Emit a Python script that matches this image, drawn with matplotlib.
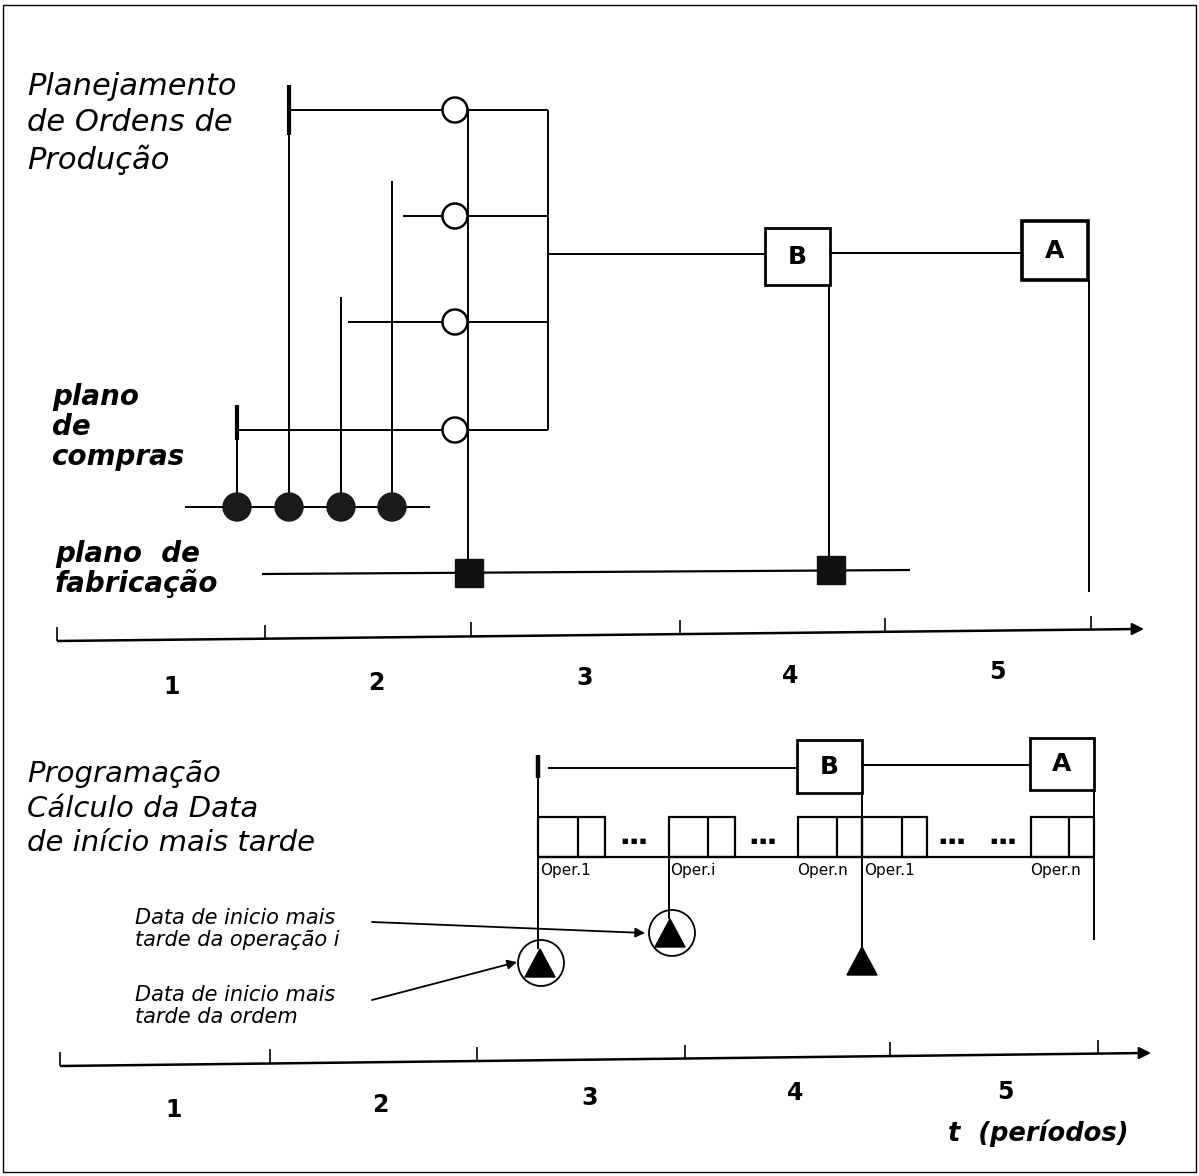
import matplotlib.pyplot as plt
from matplotlib.patches import Circle, Rectangle, Polygon

plt.rcParams['font.family'] = ['DejaVu Sans']

# ---- time scales (the scan is a little skewed, so the axes tilt) ----
periods = ['1', '2', '3', '4', '5']
top_axis = [57, 641, 1140, 629]
top_ticks = [57, 265, 471, 680, 885, 1091]
top_label_x = [172, 376, 585, 790, 997]
top_label_y = [687, 683, 678, 676, 672]
bot_axis = [60, 1066, 1147, 1053]
bot_ticks = [60, 270, 477, 685, 890, 1098]
bot_label_x = [174, 380, 590, 795, 1005]
bot_label_y = [1110, 1105, 1098, 1093, 1092]

# ---- upper diagram: planning of production orders ----
buy_x = [237, 289, 341, 392]
buy_y = 507
buy_line = [185, 430]
peg_top = [405, 85, 297, 181]
peg_thick_end = [440, 135, 297, 181]
order_x = 455
order_y = [110, 216, 322, 430]
feed_start = [289, 403, 348, 236]
collect_x = 468
bracket_x = 548
bracket_out_y = 254
make_line = [262, 910]
make_y = [574, 570]
make_x = [469, 831]
box_B1 = [765, 228, 65, 57]
box_A1 = [1022, 221, 66, 59]
A1_drop = 592

# ---- lower diagram: latest start dates ----
box_B2 = [797, 740, 65, 53]
box_A2 = [1030, 738, 64, 52]
order_bar_x = 538
op_top, op_bot = 817, 857
op_groups = [[538, 578, 605], [669, 708, 735], [798, 837, 862], [862, 902, 927], [1031, 1069, 1094]]
op_labels = ['Oper.1', 'Oper.i', 'Oper.n', 'Oper.1', 'Oper.n']
op_label_x = [540, 670, 797, 864, 1030]
dots_x = [634, 763, 952, 1003]
ring_pts = [(541, 963), (672, 933)]
tri_pts = [(540, 965), (670, 935), (862, 963)]
notes = ['Data de inicio mais\ntarde da operação i', 'Data de inicio mais\ntarde da ordem']
notes_y = [929, 1006]
arrow_from = [(372, 922), (372, 1000)]
arrow_to = [(645, 933), (517, 962)]

fig = plt.figure(figsize=(11.99, 11.76), dpi=100)
ax = fig.add_axes([0, 0, 1, 1])
ax.set_xlim(0, 1199)
ax.set_ylim(1176, 0)
ax.axis('off')

LW = 1.4


def seg(xs, ys, lw=LW):
    ax.plot(xs, ys, color='black', lw=lw, solid_capstyle='butt')


def time_axis(axis, ticks, lab_x, lab_y):
    x0, y0, x1, y1 = axis
    seg([x0, x1], [y0, y1], lw=1.8)
    ax.annotate('', xy=(x1 + 4, y1), xytext=(x1 - 10, y1),
                arrowprops=dict(arrowstyle='-|>', color='black', lw=1.5,
                                mutation_scale=18, shrinkA=0, shrinkB=0))
    for t in ticks:
        y = y0 + (y1 - y0) * (t - x0) / (x1 - x0)
        seg([t, t], [y, y - 14], lw=1.2)
    for p, x, y in zip(periods, lab_x, lab_y):
        ax.text(x, y, p, fontsize=17, fontweight='bold', ha='center', va='center')


# frame of the scanned page
ax.add_patch(Rectangle((3, 5), 1193, 1167, fill=False, lw=1.0, ec='black'))

# ---------------- upper diagram ----------------
ax.text(27, 72, 'Planejamento\nde Ordens de\nProdução', fontsize=22, style='italic',
        va='top', linespacing=1.32)
ax.text(52, 383, 'plano\nde\ncompras', fontsize=20, style='italic', fontweight='bold',
        va='top', linespacing=1.08)
ax.text(55, 540, 'plano  de\nfabricação', fontsize=20, style='italic', fontweight='bold',
        va='top', linespacing=1.05)

seg(buy_line, [buy_y, buy_y])
for x, top, thick in zip(buy_x, peg_top, peg_thick_end):
    seg([x, x], [top, buy_y])
    if thick > top:
        seg([x, x], [top, thick], lw=3)
    ax.add_patch(Circle((x, buy_y), 14, color='#1a1a1a', zorder=3))

for y, x0 in zip(order_y, feed_start):
    seg([x0, order_x - 12], [y, y])
    seg([order_x + 12, bracket_x], [y, y])
    ax.add_patch(Circle((order_x, y), 12.5, fill=False, lw=1.8, ec='black', zorder=3))
seg([collect_x, collect_x], [order_y[0], make_y[0]])
seg([bracket_x, bracket_x], [order_y[0], order_y[-1]])

bx, by, bw, bh = box_B1
ax_, ay, aw, ah = box_A1
seg([bracket_x, bx], [bracket_out_y, bracket_out_y])
ax.add_patch(Rectangle((bx, by), bw, bh, fill=False, lw=2, ec='black'))
ax.text(bx + bw / 2, by + bh / 2, 'B', fontsize=18, fontweight='bold', ha='center', va='center')
seg([bx + bw, ax_], [by + 25, by + 25])
ax.add_patch(Rectangle((ax_, ay), aw, ah, fill=False, lw=2.6, ec='black'))
ax.text(ax_ + aw / 2, ay + ah / 2, 'A', fontsize=18, fontweight='bold', ha='center', va='center')
seg([bx + bw - 1, bx + bw - 1], [by + bh, make_y[1]])
seg([ax_ + aw + 1, ax_ + aw + 1], [ay + ah, A1_drop])

seg(make_line, make_y, lw=1.6)
for x in make_x:
    y = make_y[0] + (make_y[1] - make_y[0]) * (x - make_line[0]) / (make_line[1] - make_line[0])
    ax.add_patch(Rectangle((x - 14, y - 14), 28, 28, color='#111111', zorder=3))

time_axis(top_axis, top_ticks, top_label_x, top_label_y)

# ---------------- lower diagram ----------------
ax.text(27, 760, 'Programação\nCálculo da Data\nde início mais tarde', fontsize=21,
        style='italic', va='top', linespacing=1.3)

bx, by, bw, bh = box_B2
ax_, ay, aw, ah = box_A2
seg([order_bar_x, order_bar_x], [755, ring_pts[0][1] - 14])
seg([order_bar_x, order_bar_x], [755, 778], lw=3.2)
seg([order_bar_x + 10, bx], [768, 768])
ax.add_patch(Rectangle((bx, by), bw, bh, fill=False, lw=2, ec='black'))
ax.text(bx + bw / 2, by + bh / 2, 'B', fontsize=18, fontweight='bold', ha='center', va='center')
seg([bx + bw, ax_], [765, 765])
ax.add_patch(Rectangle((ax_, ay), aw, ah, fill=False, lw=2, ec='black'))
ax.text(ax_ + aw / 2, ay + ah / 2, 'A', fontsize=18, fontweight='bold', ha='center', va='center')
seg([bx + bw, bx + bw], [by + bh, tri_pts[2][1] - 16])
seg([ax_ + aw, ax_ + aw], [ay + ah, 940])

for x0, xm, x1 in op_groups:
    ax.add_patch(Rectangle((x0, op_top), x1 - x0, op_bot - op_top, fill=False, lw=1.6, ec='black'))
    seg([xm, xm], [op_top, op_bot], lw=1.6)
seg([op_groups[0][0], op_groups[-1][2]], [op_bot, op_bot], lw=1.6)
for lab, x in zip(op_labels, op_label_x):
    ax.text(x, op_bot + 14, lab, fontsize=11, ha='left', va='center')
for x in dots_x:
    ax.text(x, 841, '■ ■ ■', fontsize=5, ha='center', va='center')

seg([op_groups[1][0], op_groups[1][0]], [op_top, ring_pts[1][1] - 14])
for (x, y) in ring_pts:
    ax.add_patch(Circle((x, y), 23, fill=False, lw=1.3, ec='black'))
for (x, y) in tri_pts:
    ax.add_patch(Polygon([(x, y - 16), (x - 15, y + 12), (x + 15, y + 12)], color='black'))

for txt, y in zip(notes, notes_y):
    ax.text(135, y, txt, fontsize=15, style='italic', va='center', linespacing=1.15)
for p0, p1 in zip(arrow_from, arrow_to):
    ax.annotate('', xy=p1, xytext=p0,
                arrowprops=dict(arrowstyle='-|>', color='black', lw=1.3,
                                mutation_scale=14, shrinkA=0, shrinkB=0))

time_axis(bot_axis, bot_ticks, bot_label_x, bot_label_y)
ax.text(1128, 1133, 't  (períodos)', fontsize=18.5, style='italic', fontweight='bold',
        ha='right', va='center')

fig.savefig('out.png', dpi=100)
